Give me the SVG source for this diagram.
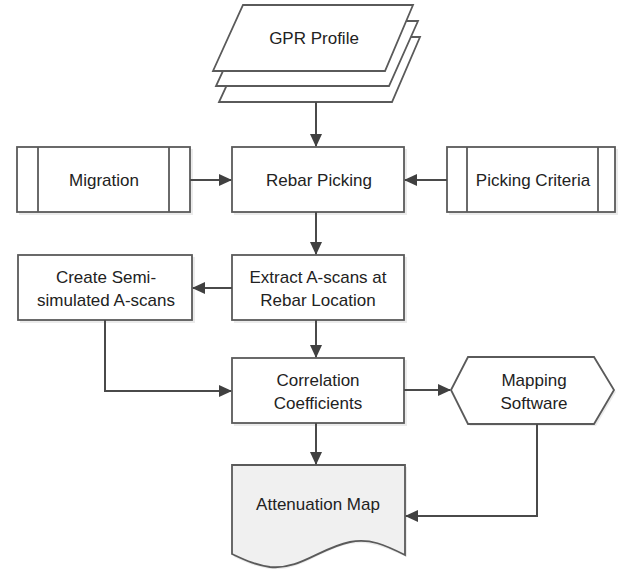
<svg xmlns="http://www.w3.org/2000/svg" width="627" height="569" viewBox="0 0 627 569">
<defs>
<style>
.box{fill:#fff;stroke:#5a5a5a;stroke-width:1.8}
.doc{fill:#f0f0f0;stroke:#5a5a5a;stroke-width:1.8}
.ln{fill:none;stroke:#4a4a4a;stroke-width:2}
.sh{fill:#000;opacity:0.08}
text{font-family:"Liberation Sans",Arial,sans-serif;font-size:17px;fill:#222;text-anchor:middle}
</style>
<marker id="ah" markerWidth="13" markerHeight="12" refX="12" refY="6" orient="auto" markerUnits="userSpaceOnUse">
<path d="M0,0 L13,6 L0,12 Z" fill="#404040"/>
</marker>
</defs>
<rect width="627" height="569" fill="#fff"/>

<g id="gpr-profile">
<polygon class="box" points="249,37 420,37 392,102 219,102"/>
<polygon class="box" points="246,21 418,21 389,86 216,86"/>
<polygon class="box" points="243,5 413,5 385,71 213,71"/>
<text x="314" y="44">GPR Profile</text>
</g>

<g id="migration">
<rect class="sh" x="19" y="149" width="174" height="66"/>
<rect class="box" x="17" y="147" width="173" height="65"/>
<line class="box" x1="38" y1="147" x2="38" y2="212"/>
<line class="box" x1="169" y1="147" x2="169" y2="212"/>
<text x="104" y="186">Migration</text>
</g>

<g id="rebar-picking">
<rect class="sh" x="234" y="149" width="173" height="66"/>
<rect class="box" x="232" y="147" width="172" height="65"/>
<text x="319" y="186">Rebar Picking</text>
</g>

<g id="picking-criteria">
<rect class="sh" x="449" y="149" width="169" height="66"/>
<rect class="box" x="447" y="147" width="168" height="65"/>
<line class="box" x1="467" y1="147" x2="467" y2="212"/>
<line class="box" x1="598" y1="147" x2="598" y2="212"/>
<text x="533" y="186">Picking Criteria</text>
</g>

<g id="create-semi">
<rect class="sh" x="20" y="257" width="175" height="66"/>
<rect class="box" x="18" y="255" width="174" height="65"/>
<text x="106" y="283">Create Semi-</text>
<text x="106" y="306">simulated A-scans</text>
</g>

<g id="extract">
<rect class="sh" x="234" y="257" width="173" height="66"/>
<rect class="box" x="232" y="255" width="172" height="65"/>
<text x="318" y="283">Extract A-scans at</text>
<text x="318" y="306">Rebar Location</text>
</g>

<g id="correlation">
<rect class="sh" x="234" y="360" width="173" height="66"/>
<rect class="box" x="232" y="358" width="172" height="65"/>
<text x="318" y="386">Correlation</text>
<text x="318" y="409">Coefficients</text>
</g>

<g id="mapping-software">
<polygon class="sh" points="453,392 470,359 596,359 616,392 596,426 470,426"/>
<polygon class="box" points="451,390 468,357 594,357 614,390 594,424 468,424"/>
<text x="534" y="386">Mapping</text>
<text x="534" y="409">Software</text>
</g>

<g id="attenuation-map">
<path class="sh" d="M234,467 L407,467 L407,557 C385,548 370,540 350,544 C320,550 300,572 270,569 C255,567 245,562 234,557 Z"/>
<path class="doc" d="M232,465 L405,465 L405,555 C385,545 370,538 350,542 C320,548 300,570 270,567 C255,565 245,560 232,554 Z"/>
<text x="318" y="510">Attenuation Map</text>
</g>

<g id="connectors">
<line class="ln" x1="316" y1="102" x2="316" y2="146" marker-end="url(#ah)"/>
<line class="ln" x1="190" y1="180" x2="231" y2="180" marker-end="url(#ah)"/>
<line class="ln" x1="447" y1="180" x2="405" y2="180" marker-end="url(#ah)"/>
<line class="ln" x1="316" y1="212" x2="316" y2="254" marker-end="url(#ah)"/>
<line class="ln" x1="232" y1="288" x2="193" y2="288" marker-end="url(#ah)"/>
<line class="ln" x1="316" y1="320" x2="316" y2="357" marker-end="url(#ah)"/>
<polyline class="ln" points="105,320 105,391 231,391" marker-end="url(#ah)"/>
<line class="ln" x1="404" y1="390" x2="450" y2="390" marker-end="url(#ah)"/>
<line class="ln" x1="316" y1="423" x2="316" y2="464" marker-end="url(#ah)"/>
<polyline class="ln" points="537,424 537,516 406,516" marker-end="url(#ah)"/>
</g>
</svg>
